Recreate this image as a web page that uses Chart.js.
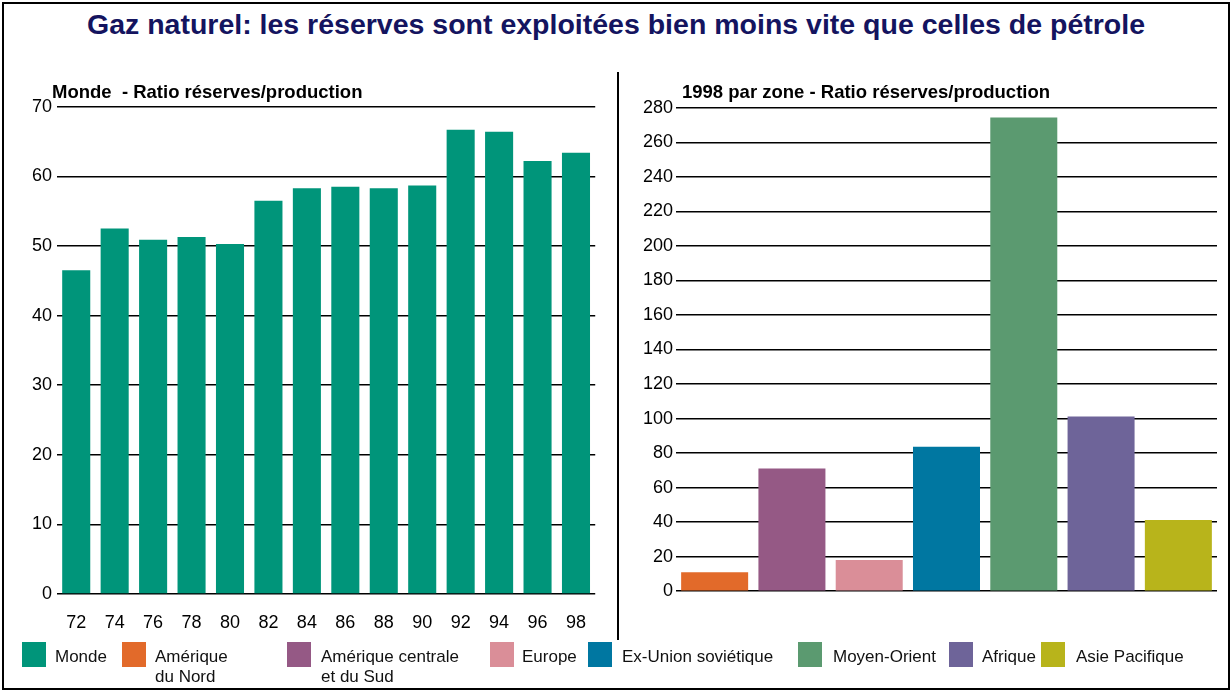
<!DOCTYPE html>
<html lang="fr">
<head>
    <meta charset="UTF-8">
    <title>Gaz naturel - ratio réserves/production</title>
    <script src="https://cdn.jsdelivr.net/npm/chart.js"></script>
    <style>
        body { margin: 0; background: #fff; font-family: "Liberation Sans", Arial, sans-serif; }
        #frame { position: absolute; left: 2px; top: 2px; width: 1224px; height: 684px; border: 2px solid #000; overflow: hidden; }
        #title { position: absolute; left: 0; top: 8px; width: 1232px; text-align: center; font-weight: bold; font-size: 28.5px; color: #14145f; }
        .sub { position: absolute; top: 81px; font-weight: bold; font-size: 18.5px; color: #000; }
        #divider { position: absolute; left: 617px; top: 72px; width: 2px; height: 568px; background: #000; }
        .box { position: absolute; }
        .leg-sw { position: absolute; top: 642px; width: 24px; height: 25px; }
        .leg-tx { position: absolute; top: 647px; font-size: 17px; line-height: 20px; color: #111; }
    </style>
</head>
<body>
    <div id="frame"></div>
    <div id="title">Gaz naturel: les réserves sont exploitées bien moins vite que celles de pétrole</div>
    <div id="divider"></div>

    <div class="box" style="left:20px; top:91px; width:576px; height:553px">
        <canvas id="mondeChart"></canvas>
    </div>
    <div class="box" style="left:630px; top:94px; width:590px; height:511px">
        <canvas id="zoneChart"></canvas>
    </div>
    <div class="sub" style="left:52px">Monde&nbsp; - Ratio réserves/production</div>
    <div class="sub" style="left:682px">1998 par zone - Ratio réserves/production</div>
    <div id="legend"></div>

    <script>
        // Monde, ratio réserves/production par année
        const years = ['72', '74', '76', '78', '80', '82', '84', '86', '88', '90', '92', '94', '96', '98'];
        const mondeRatio = [46.5, 52.5, 50.9, 51.3, 50.3, 56.5, 58.3, 58.5, 58.3, 58.7, 66.7, 66.4, 62.2, 63.4];

        // 1998 par zone
        const zones = ['Amérique du Nord', 'Amérique centrale et du Sud', 'Europe', 'Ex-Union soviétique', 'Moyen-Orient', 'Afrique', 'Asie Pacifique'];
        const zoneRatio = [11, 71, 18, 83.6, 274.4, 101.2, 41.3];

        const mondeColor = '#00957a';
        const zoneColors = ['#e26a2a', '#955985', '#da8e98', '#0077a1', '#5b9a70', '#6e6499', '#b8b41b'];

        // legende (libellés sur une ou deux lignes)
        const legendNames = [['Monde'], ['Amérique', 'du Nord'], ['Amérique centrale', 'et du Sud'], ['Europe'],
            ['Ex-Union soviétique'], ['Moyen-Orient'], ['Afrique'], ['Asie Pacifique']];
        const legendX = [22, 122, 287, 490, 588, 798, 949, 1041];
        const legendTextX = [55, 155, 321, 522, 622, 833, 982, 1076];

        Chart.defaults.font.family = '"Liberation Sans", Arial, sans-serif';
        Chart.defaults.color = '#000';
        Chart.defaults.animation = false;

        const gridStyle = { color: '#000', lineWidth: 1.5, drawTicks: false };

        new Chart(document.getElementById('mondeChart'), {
            type: 'bar',
            data: {
                labels: years,
                datasets: [{
                    data: mondeRatio,
                    backgroundColor: mondeColor,
                    barPercentage: 0.73,
                    categoryPercentage: 1
                }]
            },
            options: {
                responsive: true,
                maintainAspectRatio: false,
                layout: { padding: { top: 3, right: 0 } },
                plugins: { legend: { display: false }, tooltip: { enabled: false } },
                scales: {
                    x: {
                        grid: { display: false },
                        border: { display: false },
                        ticks: { font: { size: 18 }, padding: 10 },
                        afterFit: (s) => { s.height = 50; }
                    },
                    y: {
                        min: 0, max: 70,
                        grid: gridStyle,
                        border: { display: false },
                        ticks: { stepSize: 10, font: { size: 18 }, padding: 5 },
                        afterFit: (s) => { s.width = 37; }
                    }
                }
            }
        });

        new Chart(document.getElementById('zoneChart'), {
            type: 'bar',
            data: {
                labels: zones,
                datasets: [{
                    data: zoneRatio,
                    backgroundColor: zoneColors,
                    barPercentage: 0.867,
                    categoryPercentage: 1
                }]
            },
            options: {
                responsive: true,
                maintainAspectRatio: false,
                layout: { padding: { top: 4, right: 3, bottom: 9 } },
                plugins: { legend: { display: false }, tooltip: { enabled: false } },
                scales: {
                    x: { display: false },
                    y: {
                        min: 0, max: 280,
                        grid: gridStyle,
                        border: { display: false },
                        ticks: { stepSize: 20, font: { size: 18 }, padding: 3 },
                        afterFit: (s) => { s.width = 46; }
                    }
                }
            }
        });

        const legend = document.getElementById('legend');
        const colors = [mondeColor].concat(zoneColors);
        legendNames.forEach((lines, i) => {
            const sw = document.createElement('div');
            sw.className = 'leg-sw';
            sw.style.left = legendX[i] + 'px';
            sw.style.background = colors[i];
            legend.appendChild(sw);
            const tx = document.createElement('div');
            tx.className = 'leg-tx';
            tx.style.left = legendTextX[i] + 'px';
            tx.innerHTML = lines.join('<br>');
            legend.appendChild(tx);
        });
    </script>
</body>
</html>
